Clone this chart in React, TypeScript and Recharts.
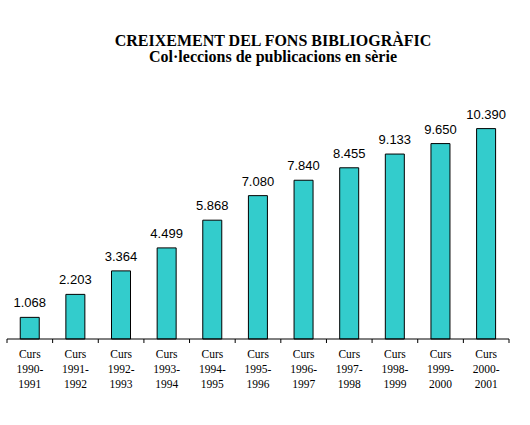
import React from "react";
import { BarChart, Bar, XAxis, YAxis, LabelList } from "recharts";

const startYears = ["1990", "1991", "1992", "1993", "1994", "1995", "1996", "1997", "1998", "1999", "2000"];
const endYears = ["1991", "1992", "1993", "1994", "1995", "1996", "1997", "1998", "1999", "2000", "2001"];
const values = [1068, 2203, 3364, 4499, 5868, 7080, 7840, 8455, 9133, 9650, 10390];

const data = values.map((v, i) => ({ cat: `${startYears[i]}-${endYears[i]}`, value: v, i }));

const W = 530;
const H = 425;
const M = { top: 96, right: 21, left: 7, bottom: 26 };
const plotW = W - M.left - M.right;
const band = plotW / values.length;

const fmt = (n: any) => {
  const v = Number(n);
  const th = Math.floor(v / 1000);
  const rest = String(v % 1000).padStart(3, "0");
  return th > 0 ? `${th}.${rest}` : String(v);
};

const Tick = (props: any) => {
  const { x, y, index } = props;
  const a = startYears[index];
  const b = endYears[index];
  const ay = y - 8;
  return (
    <g>
      <line x1={x - band / 2} x2={x - band / 2} y1={ay} y2={ay + 4} stroke="#000" />
      {index === values.length - 1 && (
        <line x1={x + band / 2} x2={x + band / 2} y1={ay} y2={ay + 4} stroke="#000" />
      )}
      <text x={x} y={ay + 19} textAnchor="middle" fontFamily="'Liberation Serif', 'Times New Roman', serif" fontSize={11.5} fill="#000">
        <tspan x={x} dy={0}>Curs</tspan>
        <tspan x={x} dy={15}>{a}-</tspan>
        <tspan x={x} dy={15}>{b}</tspan>
      </text>
    </g>
  );
};

export default function App() {
  return (
    <div style={{ position: "absolute", left: 0, top: 0, width: W, height: H, background: "#fff" }}>
      <div
        style={{
          position: "absolute",
          left: 0,
          width: W,
          top: 33,
          textAlign: "center",
          fontFamily: "'Liberation Serif', 'Times New Roman', serif",
          fontWeight: "bold",
          fontSize: 16,
          lineHeight: "16px",
          paddingLeft: 16,
          boxSizing: "border-box",
        }}
      >
        <div>CREIXEMENT DEL FONS BIBLIOGRÀFIC</div>
        <div>Col·leccions de publicacions en sèrie</div>
      </div>
      <BarChart width={W} height={H} data={data} margin={M} barCategoryGap="29%">
        <YAxis hide domain={[0, 12000]} />
        <XAxis
          dataKey="cat"
          interval={0}
          axisLine={{ stroke: "#000" }}
          tickLine={false}
          tick={<Tick />}
          height={60}
        />
        <Bar dataKey="value" fill="#33CCCC" stroke="#000" strokeWidth={1} isAnimationActive={false}>
          <LabelList
            dataKey="value"
            position="top"
            offset={10}
            formatter={fmt}
            style={{ fontFamily: "'Liberation Sans', Arial, sans-serif", fontSize: 13, fill: "#000" }}
          />
        </Bar>
      </BarChart>
    </div>
  );
}
